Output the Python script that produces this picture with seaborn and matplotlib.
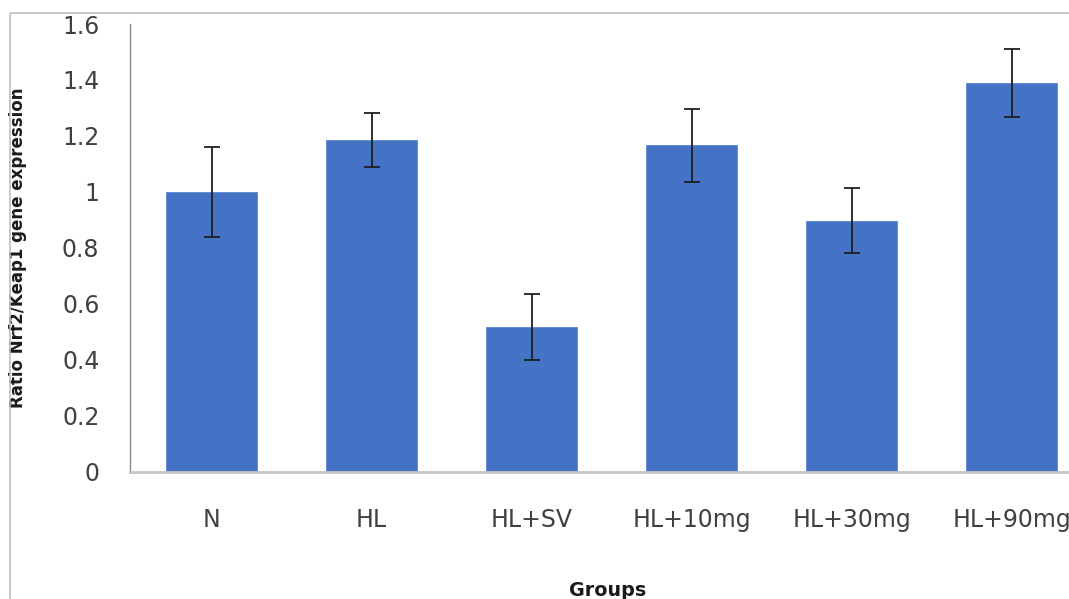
import matplotlib
matplotlib.use("Agg")
import matplotlib.pyplot as plt
import seaborn as sns
import pandas as pd
from matplotlib.lines import Line2D

groups = ["N", "HL", "HL+SV", "HL+10mg", "HL+30mg", "HL+90mg"]
ratio = [1.00, 1.185, 0.518, 1.166, 0.897, 1.388]
err = [0.160, 0.098, 0.118, 0.131, 0.117, 0.121]
yticks = [0, 0.2, 0.4, 0.6, 0.8, 1.0, 1.2, 1.4, 1.6]
ytick_labels = ["0", "0.2", "0.4", "0.6", "0.8", "1", "1.2", "1.4", "1.6"]

df = pd.DataFrame({"Groups": groups, "Ratio": ratio})

sns.set_theme(style="white")
plt.rcParams["font.family"] = ["DejaVu Sans"]

W, H = 1069, 599
fig = plt.figure(figsize=(W / 100, H / 100), dpi=100)
ax_w = W - 130
ax = fig.add_axes([130 / W, 1 - 471.5 / H, ax_w / W, (471.5 - 24) / H])

sns.barplot(data=df, x="Groups", y="Ratio", color="#4472C4", width=0.57,
            saturation=1, errorbar=None, ax=ax, edgecolor="#5b85d0", linewidth=0.6)
ax.errorbar(range(len(groups)), ratio, yerr=err, fmt="none", ecolor="#1f1f1f",
            elinewidth=1.3, capsize=6, capthick=1.3)

ax.set_xlim(-0.51, -0.51 + ax_w / 160)
ax.set_ylim(0, 1.6)
ax.set_yticks(yticks)
ax.set_yticklabels(ytick_labels)
ax.tick_params(axis="y", length=0, pad=22, labelsize=17, colors="#404040")
ax.tick_params(axis="x", length=0, pad=26, labelsize=17, colors="#404040")

for s in ["top", "right"]:
    ax.spines[s].set_visible(False)
ax.spines["left"].set_color("#8c8c8c")
ax.spines["left"].set_linewidth(1.0)
ax.spines["bottom"].set_color("#c4c4c4")
ax.spines["bottom"].set_linewidth(2.0)

ax.set_ylabel("Ratio Nrf2/Keap1 gene expression", fontsize=12, fontweight="bold",
              color="#1a1a1a", labelpad=0)
ax.yaxis.set_label_coords(-(130 - 18) / ax_w, 0.5)
ax.yaxis.label.set_va("center")
ax.set_xlabel("Groups", fontsize=13.8, fontweight="bold", color="#1a1a1a")
ax.xaxis.set_label_coords((608 - 130) / ax_w, -(590 - 471.5) / (471.5 - 24))
ax.xaxis.label.set_va("center")

x0 = 10 / W
y0 = 1 - 13 / H
fig.add_artist(Line2D([x0, 1.2], [y0, y0], transform=fig.transFigure,
                      color="#c0c0c0", linewidth=1.2, solid_capstyle="butt"))
fig.add_artist(Line2D([x0, x0], [-0.2, y0], transform=fig.transFigure,
                      color="#c0c0c0", linewidth=1.2, solid_capstyle="butt"))

fig.savefig("out.png", dpi=100)
